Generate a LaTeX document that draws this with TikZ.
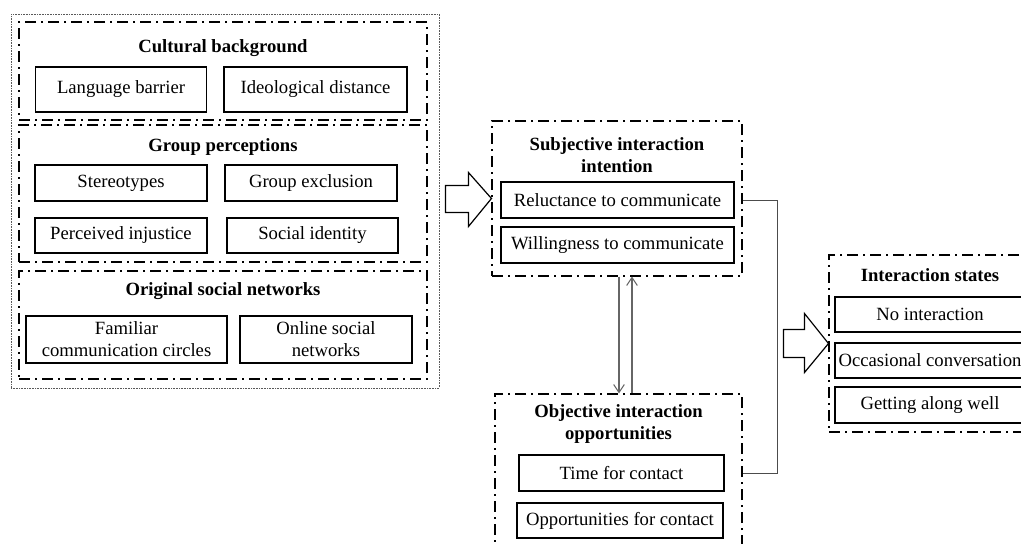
\documentclass[tikz,border=0pt]{standalone}
\usepackage{fontspec}
\setmainfont{Liberation Serif}
\usetikzlibrary{arrows.meta}
\newcommand{\px}{0.75pt}

\begin{document}
\begin{tikzpicture}[x=\px, y=-\px,
        font=\fontsize{14}{16.5}\selectfont,
        item/.style={draw, line width=0.9pt, inner sep=2pt, align=center},
        group/.style={draw, line width=0.8pt, dash pattern=on 8.25pt off 3.75pt on 1.5pt off 3.75pt},
        title/.style={font=\fontsize{14}{16.5}\selectfont\bfseries, align=center},
        flow/.style={draw=black!60, line width=0.8pt, -{Straight Barb[length=6pt,width=8pt]}},
        blockarrow/.style={draw, line width=0.9pt, fill=white}]
        \clip (0,0) rectangle (1021,543);
        \draw (225,201) node[draw=black!65, line width=0.6pt, dash pattern=on 0.6pt off 0.6pt, minimum width=428*\px, minimum height=374*\px] (outer) {};
        \draw (223,71)    node[group, minimum width=408*\px, minimum height=98*\px]  (cult) {};
        \draw (223,193.5) node[group, minimum width=408*\px, minimum height=137*\px] (grp) {};
        \draw (223,325)   node[group, minimum width=408*\px, minimum height=108*\px] (orig) {};
        \draw (617,198.5) node[group, minimum width=250*\px, minimum height=155*\px] (subj) {};
        \draw (618.5,473) node[group, minimum width=247*\px, minimum height=158*\px] (obj) {};
        \draw (930,343.5) node[group, minimum width=202*\px, minimum height=177*\px] (states) {};
        \node[title] (cultT)   at (223,48)    {Cultural background};
        \node[title] (grpT)    at (223,147)   {Group perceptions};
        \node[title] (origT)   at (223,291)   {Original social networks};
        \node[title] (subjT)   at (617,155)   {Subjective interaction\\intention};
        \node[title] (objT)    at (618.5,424) {Objective interaction\\opportunities};
        \node[title] (statesT) at (930,275)   {Interaction states};
        \draw (121,89.5)   node[item, minimum width=171*\px, minimum height=45*\px] (lang)    {Language barrier};
        \draw (315.5,89.5) node[item, minimum width=183*\px, minimum height=45*\px] (ideo)    {Ideological distance};
        \draw (121,183)    node[item, minimum width=172*\px, minimum height=36*\px] (stereo)  {Stereotypes};
        \draw (311,183)    node[item, minimum width=172*\px, minimum height=36*\px] (excl)    {Group exclusion};
        \draw (121,235.5)  node[item, minimum width=172*\px, minimum height=35*\px] (injust)  {Perceived injustice};
        \draw (312.5,235.5) node[item, minimum width=171*\px, minimum height=35*\px] (ident)  {Social identity};
        \draw (126.5,339.5) node[item, minimum width=201*\px, minimum height=47*\px] (famil)  {Familiar\\communication circles};
        \draw (326,339.5)  node[item, minimum width=172*\px, minimum height=47*\px] (online)  {Online social\\networks};
        \draw (617.5,200)  node[item, minimum width=233*\px, minimum height=36*\px] (reluct)  {Reluctance to communicate};
        \draw (617.5,245)  node[item, minimum width=233*\px, minimum height=36*\px] (willing) {Willingness to communicate};
        \draw (621.5,473)  node[item, minimum width=205*\px, minimum height=36*\px] (time)    {Time for contact};
        \draw (620,520.5)  node[item, minimum width=206*\px, minimum height=35*\px] (opport)  {Opportunities for contact};
        \draw (930,314.5)  node[item, minimum width=190*\px, minimum height=35*\px] (noint)   {No interaction};
        \draw (930,360.5)  node[item, minimum width=190*\px, minimum height=35*\px] (occas)   {Occasional conversation};
        \draw (930,405)    node[item, minimum width=190*\px, minimum height=36*\px] (getting) {Getting along well};
        \draw[blockarrow] (subj.west) -- ++(-23,-26) -- ++(0,13) -- ++(-23,0) -- ++(0,27)
              -- ++(23,0) -- ++(0,14) -- cycle;
        \draw[blockarrow] (states.west) -- ++(-24,-30) -- ++(0,16) -- ++(-21,0) -- ++(0,28)
              -- ++(21,0) -- ++(0,15) -- cycle;
        \draw[flow] ([xshift=2*\px]subj.south) -- ([xshift=2*\px]subj.south |- obj.north);
        \draw[flow] ([xshift=15*\px]subj.south |- obj.north) -- ([xshift=15*\px]subj.south);
        \coordinate (bend) at (777,200);
        \draw[black!70, line width=0.6pt] (reluct.east -| subj.east) -- (bend) |- (obj.east);
    \end{tikzpicture}
\end{document}
